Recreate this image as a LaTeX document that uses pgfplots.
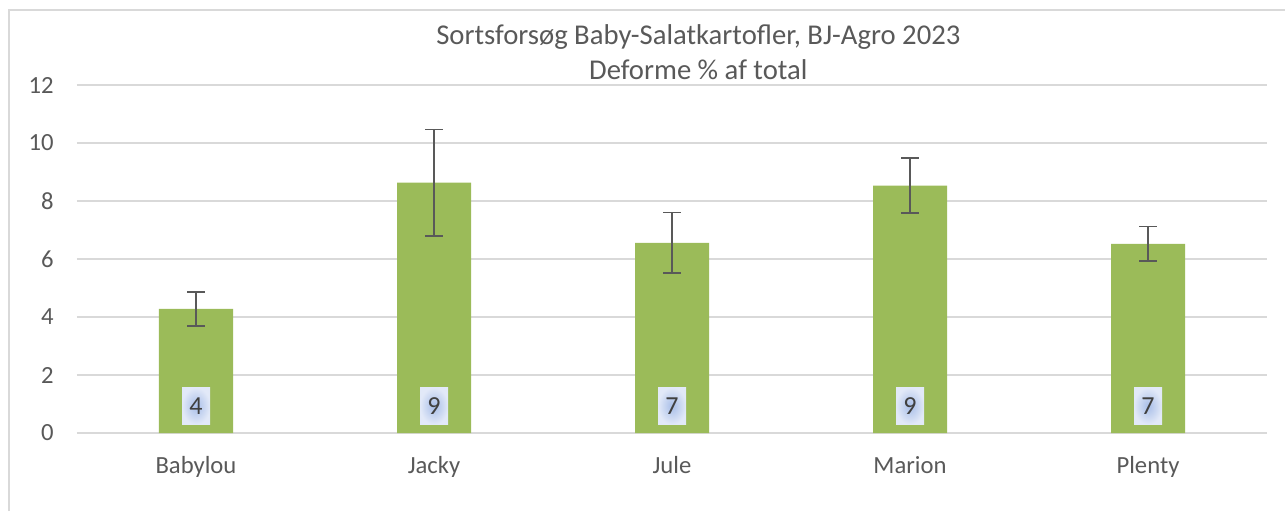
\documentclass[border=0pt]{standalone}
\usepackage{pgfplots}
\pgfplotsset{compat=1.18}
\usepackage{fontspec}
\setmainfont{Carlito}
\definecolor{txt}{HTML}{595959}
\definecolor{gridc}{HTML}{D9D9D9}
\definecolor{barc}{HTML}{9BBB59}
\definecolor{errc}{HTML}{595959}
\begin{document}
\begin{tikzpicture}
\useasboundingbox (-57.75pt,-58.5pt) rectangle (906pt,324.75pt);
\draw[gridc, line width=1.5pt] (-51pt,-58.5pt) -- (-51pt,316.9pt) -- (906pt,316.9pt);
\begin{axis}[
  at={(0,0)}, anchor=south west,
  scale only axis, width=892.5pt, height=261pt,
  xmin=-0.5, xmax=4.5, ymin=0, ymax=12,
  xtick={0,1,2,3,4},
  xticklabels={Babylou,Jacky,Jule,Marion,Plenty},
  ytick={0,2,4,6,8,10,12},
  axis line style={draw=none},
  major tick length=0pt,
  ymajorgrids, grid style={gridc, line width=1.1pt},
  tick label style={font=\fontsize{18.5}{20}\selectfont, text=txt},
  /pgf/number format/assume math mode=true,
  yticklabel style={xshift=-14pt},
  xticklabel style={yshift=-14pt},
  clip=false,
]
\addplot[ybar, bar width=55.5pt, fill=barc, draw=none,
  error bars/.cd, y dir=both, y explicit,
  error bar style={errc, line width=1.3pt},
  error mark options={rotate=90, errc, mark size=6.5pt, line width=1.3pt}]
  table[x=x, y=y, y error=e] {
  x y e
  0 4.28 0.59
  1 8.63 1.84
  2 6.56 1.04
  3 8.53 0.95
  4 6.52 0.60
};
\addplot[only marks, mark=none, nodes near coords, point meta=explicit symbolic,
  every node near coord/.style={anchor=center, inner sep=0pt, minimum width=21pt, minimum height=27.75pt,
    shading=radial, inner color={rgb,255:red,168;green,190;blue,232}, outer color={rgb,255:red,226;green,233;blue,248},
    font=\fontsize{19.5}{20}\selectfont, text={rgb,255:red,64;green,64;blue,64}}]
  table[x=x, y=y, meta=l] {
  x y l
  0 0.93 4
  1 0.93 9
  2 0.93 7
  3 0.93 9
  4 0.93 7
};
\end{axis}
\node[align=center, text=txt, font=\fontsize{21.5}{26.25}\selectfont] at (466pt,285.4pt) {Sortsforsøg Baby-Salatkartofler, BJ-Agro 2023\\Deforme \% af total};
\end{tikzpicture}
\end{document}
